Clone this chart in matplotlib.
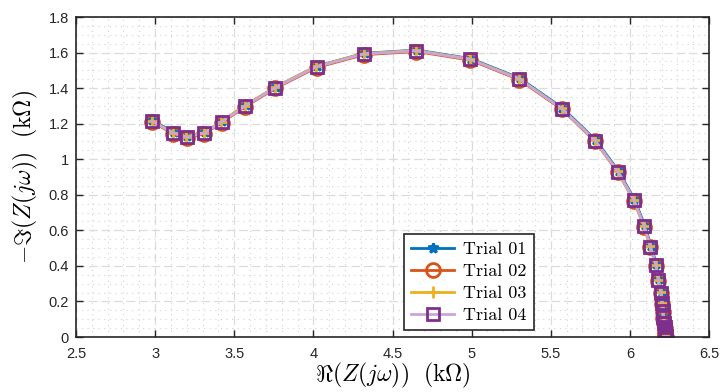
import numpy as np
import matplotlib.pyplot as plt
from matplotlib.ticker import MultipleLocator

# Nyquist data, real and negative imaginary part (kOhm)
re_z = [2.98, 3.115, 3.20, 3.31, 3.42, 3.57, 3.76, 4.02, 4.32, 4.65, 4.99,
        5.30, 5.57, 5.78, 5.925, 6.026, 6.09, 6.13, 6.165, 6.18, 6.197, 6.203,
        6.208, 6.212, 6.216, 6.219, 6.221, 6.223, 6.224, 6.225, 6.225]
im_z = [1.215, 1.147, 1.125, 1.147, 1.21, 1.30, 1.403, 1.52, 1.592, 1.61, 1.562,
        1.452, 1.285, 1.105, 0.93, 0.77, 0.625, 0.508, 0.405, 0.32, 0.25, 0.19,
        0.145, 0.11, 0.08, 0.055, 0.035, 0.02, 0.01, 0.004, 0.0]

# small per-trial deviations
trial_dx = [0.003, 0.0, -0.002, 0.0]
trial_dy = [0.004, -0.004, 0.002, 0.0]
trial_names = ["Trial 01", "Trial 02", "Trial 03", "Trial 04"]

line_colors = ["#0072BD", "#D95319", "#EDB120", "#C9A6D6"]
marker_colors = ["#0072BD", "#D95319", "#EDB120", "#7E2F8E"]
markers = ["*", "o", "+", "s"]
msizes = [7, 10, 9, 9]

plt.rcParams["mathtext.fontset"] = "cm"
plt.rcParams["font.family"] = ["Liberation Sans", "DejaVu Sans"]

fig = plt.figure(figsize=(7.21, 3.92), dpi=100)
ax = fig.add_axes([0.1054, 0.1403, 0.878, 0.8163])

x = np.array(re_z)
y = np.array(im_z)
for i in range(4):
    ax.plot(x + trial_dx[i], y + trial_dy[i], color=line_colors[i],
            lw=2, marker=markers[i], ms=msizes[i], mfc="none",
            mec=marker_colors[i], mew=2, label=trial_names[i])

ax.set_xlim(2.5, 6.5)
ax.set_ylim(0, 1.8)
ax.xaxis.set_minor_locator(MultipleLocator(0.1))
ax.yaxis.set_minor_locator(MultipleLocator(0.05))
ax.set_xticks(np.arange(2.5, 6.51, 0.5))
ax.set_xticklabels(["2.5", "3", "3.5", "4", "4.5", "5", "5.5", "6", "6.5"])
ax.set_yticks(np.arange(0, 1.81, 0.2))
ax.set_yticklabels(["0", "0.2", "0.4", "0.6", "0.8", "1", "1.2", "1.4", "1.6", "1.8"])

ax.grid(which="major", color="#dcdcdc", ls=(0, (7, 3)), lw=0.9)
ax.grid(which="minor", color="#d2d2d2", ls=(0, (1, 4)), lw=0.8)
ax.set_axisbelow(True)
ax.tick_params(which="major", direction="in", length=5, width=1, top=True,
               right=True, labelsize=10.5, colors="#262626")
ax.tick_params(axis="x", which="major", pad=7)
ax.tick_params(axis="y", which="major", pad=5)
ax.tick_params(which="minor", length=0)
for sp in ax.spines.values():
    sp.set_color("#262626")
    sp.set_linewidth(1.2)

ax.set_xlabel(r"$\Re(Z(j\omega))\ \ (\mathrm{k}\Omega)$", fontsize=17, labelpad=0)
ax.set_ylabel(r"$-\Im(Z(j\omega))\ \ (\mathrm{k}\Omega)$", fontsize=17, labelpad=6)

leg = ax.legend(loc="lower right", bbox_to_anchor=(0.7406, 0.158),
                bbox_transform=fig.transFigure, borderaxespad=0,
                prop={"family": "cmr10", "size": 13}, fancybox=False,
                framealpha=1, edgecolor="#262626", handlelength=2.4,
                labelspacing=0.35, borderpad=0.4, handletextpad=0.5)
leg.get_frame().set_linewidth(1.2)

fig.savefig("out.png", dpi=100)
